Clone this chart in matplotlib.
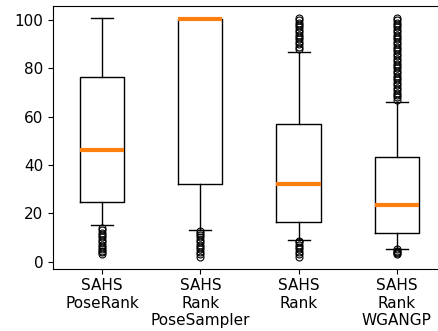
import matplotlib
matplotlib.use("Agg")
import matplotlib.pyplot as plt

labels = ["SAHS\nPoseRank", "SAHS\nRank\nPoseSampler", "SAHS\nRank", "SAHS\nRank\nWGANGP"]
q1 = [24.8, 32.1, 16.2, 12.0]
med = [46.0, 100.6, 32.2, 23.3]
q3 = [76.3, 100.6, 57.0, 43.1]
whislo = [15.2, 13.1, 9.1, 5.2]
whishi = [101.0, 100.6, 86.9, 66.1]
fliers = [
    [3, 4, 4.5, 5, 6, 7, 8, 9, 10, 11, 12, 13, 14],
    [2, 3, 4, 5, 6, 7, 8, 9, 10, 11, 12, 12.5],
    [2, 3, 4, 5, 6, 7, 8, 8.5,
     88, 89, 90, 91, 92, 93, 94, 95, 96, 97, 98, 99, 100, 101],
    [3, 3.5, 4, 4.5, 5,
     67, 68, 69, 70, 71, 72, 73, 74, 75, 76, 77, 78, 79, 80, 81, 82, 83, 84,
     85, 86, 87, 88, 89, 90, 91, 92, 93, 94, 95, 96, 97, 98, 99, 100, 101],
]

stats = []
for i in range(len(labels)):
    stats.append(dict(q1=q1[i], med=med[i], q3=q3[i], whislo=whislo[i],
                      whishi=whishi[i], fliers=fliers[i]))

fig = plt.figure(figsize=(4.38, 3.31), dpi=100)
ax = fig.add_axes([0.121, 0.188, 0.897, 0.795])
ax.bxp(stats, positions=[1, 2, 3, 4], widths=0.45,
       medianprops=dict(color="#ff7f0e", linewidth=3),
       flierprops=dict(marker="o", markersize=5, markerfacecolor="none",
                       markeredgecolor="black", markeredgewidth=0.8))
ax.set_xlim(0.5, 4.5)
ax.set_ylim(-3.0, 106.0)
ax.set_yticks([0, 20, 40, 60, 80, 100])
ax.set_xticks([1, 2, 3, 4])
ax.set_xticklabels(labels)
ax.tick_params(labelsize=11)
fig.savefig("out.png", dpi=100)
